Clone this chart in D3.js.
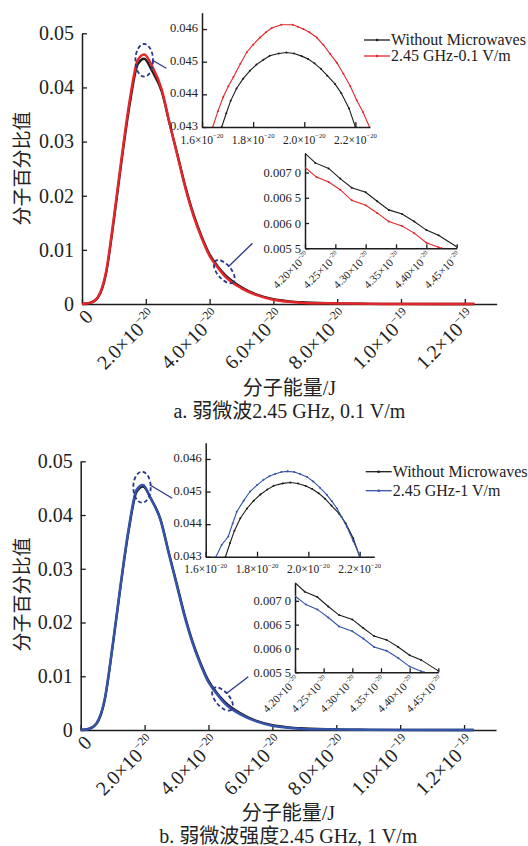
<!DOCTYPE html>
<html>
<head>
<meta charset="utf-8">
<script src="https://cdn.jsdelivr.net/npm/d3@7"></script>
<style>
body { margin: 0; background: #fff; }
text { font-family: "Liberation Serif", "Times New Roman", "Noto Sans CJK SC", serif; fill: #222; }
</style>
</head>
<body>
<div id="chart"></div>
<script>
// molecular energy, in units of 1e-20 J
var energy = [0, 0.25, 0.5, 0.75, 1.0, 1.25, 1.5, 1.75, 1.95, 2.2, 2.5, 2.75, 3.0, 3.25, 3.5, 3.75, 4.0, 4.25, 4.5, 5.0, 5.5, 6.0, 6.5, 7.0, 8.0, 9.0, 10.0, 12.3];
var withoutMw = [0, 0.0002, 0.0012, 0.0055, 0.0155, 0.0268, 0.0370, 0.0443, 0.0453, 0.0430, 0.0392, 0.0332, 0.0274, 0.0215, 0.0165, 0.0125, 0.0092, 0.0070, 0.0053, 0.0031, 0.0017, 0.0009, 0.0005, 0.0003, 0.0001, 0.00004, 0.00001, 0];
var mw01 = [0, 0.0002, 0.0013, 0.0058, 0.0160, 0.0274, 0.0378, 0.0451, 0.0461, 0.0439, 0.0396, 0.0333, 0.0272, 0.0212, 0.0162, 0.0122, 0.0089, 0.0068, 0.0050, 0.0029, 0.0016, 0.0008, 0.0004, 0.0002, 0.0001, 0.00003, 0.00001, 0];
var mw1 = [0, 0.0002, 0.0013, 0.0057, 0.0158, 0.0271, 0.0374, 0.0447, 0.0456, 0.0430, 0.0390, 0.0330, 0.0271, 0.0212, 0.0162, 0.0122, 0.0089, 0.0068, 0.0050, 0.0029, 0.0016, 0.0008, 0.0004, 0.0002, 0.0001, 0.00003, 0.00001, 0];

// close-up around the peak: [energy, fraction]
var peakWithout = [[1.677, 0.0430], [1.695, 0.04342], [1.712, 0.04380], [1.735, 0.04418], [1.761, 0.04448], [1.787, 0.04472], [1.813, 0.04491], [1.84, 0.04506], [1.865, 0.04518], [1.9, 0.04525], [1.93, 0.04528], [1.96, 0.04525], [1.99, 0.04517], [2.015, 0.04508], [2.04, 0.04495], [2.065, 0.04478], [2.09, 0.04457], [2.12, 0.04432], [2.145, 0.04403], [2.175, 0.04357], [2.2, 0.0430]];
var peakMw01 = [[1.642, 0.0430], [1.662, 0.04348], [1.683, 0.04392], [1.703, 0.04425], [1.723, 0.04453], [1.75, 0.04494], [1.775, 0.04529], [1.80, 0.04552], [1.827, 0.04574], [1.85, 0.04590], [1.873, 0.04603], [1.91, 0.04613], [1.955, 0.04613], [1.975, 0.04607], [1.996, 0.04600], [2.02, 0.04590], [2.049, 0.04574], [2.075, 0.04551], [2.101, 0.04524], [2.127, 0.04497], [2.153, 0.04463], [2.18, 0.04425], [2.205, 0.04382], [2.23, 0.04345], [2.255, 0.0430]];
var peakMw1 = [[1.640, 0.0430], [1.662, 0.04336], [1.688, 0.04362], [1.705, 0.04402], [1.721, 0.04438], [1.748, 0.04472], [1.773, 0.04500], [1.80, 0.04520], [1.825, 0.04536], [1.848, 0.04547], [1.870, 0.04554], [1.895, 0.04560], [1.919, 0.04562], [1.945, 0.04560], [1.968, 0.04554], [1.995, 0.04545], [2.019, 0.04531], [2.045, 0.04512], [2.072, 0.04490], [2.092, 0.04470], [2.111, 0.04449], [2.130, 0.04422], [2.150, 0.04392], [2.175, 0.04348], [2.2016, 0.0430]];

// close-up on the tail
var tailWithout = [[4.20, 0.00738], [4.217, 0.00719], [4.239, 0.00708], [4.258, 0.00688], [4.277, 0.00670], [4.30, 0.00661], [4.319, 0.00643], [4.338, 0.00626], [4.36, 0.00618], [4.38, 0.00603], [4.40, 0.00586], [4.42, 0.00576], [4.45, 0.00553]];
var tailMw01 = [[4.20, 0.00710], [4.219, 0.00691], [4.239, 0.00681], [4.258, 0.00666], [4.277, 0.00645], [4.30, 0.00635], [4.319, 0.00620], [4.338, 0.00603], [4.36, 0.00594], [4.38, 0.00580], [4.40, 0.00561], [4.42, 0.00552], [4.425, 0.0055]];
var tailMw1 = [[4.20, 0.00710], [4.219, 0.00692], [4.239, 0.00682], [4.258, 0.00665], [4.277, 0.00646], [4.30, 0.00636], [4.319, 0.00621], [4.338, 0.00603], [4.36, 0.00595], [4.38, 0.00580], [4.40, 0.00562], [4.42, 0.00552], [4.425, 0.0055]];

var mainXTicks = [0, 2, 4, 6, 8, 10, 12];
var mainXLabels = [["0", ""], ["2.0×10", "−20"], ["4.0×10", "−20"], ["6.0×10", "−20"], ["8.0×10", "−20"], ["1.0×10", "−19"], ["1.2×10", "−19"]];
var mainYTicks = [0, 0.01, 0.02, 0.03, 0.04, 0.05];
var mainYLabels = ["0", "0.01", "0.02", "0.03", "0.04", "0.05"];
var peakXTicks = [1.6, 1.8, 2.0, 2.2];
var peakXLabels = ["1.6×10", "1.8×10", "2.0×10", "2.2×10"];
var peakYTicks = [0.043, 0.044, 0.045, 0.046];
var peakYLabels = ["0.043", "0.044", "0.045", "0.046"];
var tailXTicks = [4.20, 4.25, 4.30, 4.35, 4.40, 4.45];
var tailXLabels = ["4.20×10", "4.25×10", "4.30×10", "4.35×10", "4.40×10", "4.45×10"];
var tailYTicks = [0.0055, 0.0060, 0.0065, 0.0070];
var tailYLabels = ["0.005 5", "0.006 0", "0.006 5", "0.007 0"];

var black = "#1c1c1c", red = "#e3262b", blue = "#3553a8", navy = "#2b3785";

var svg = d3.select("#chart").append("svg")
    .attr("width", 528)
    .attr("height", 846);

var panels = [
  { main: {x0: 82, x1: 496.7, y0: 304, y1: 33.3},
    peak: {x0: 202, x1: 370, y0: 127, y1: 12.7},
    tail: {x0: 305, x1: 456.7, y0: 248.3, y1: 153.3},
    color: red, series: mw01, peakSeries: peakMw01, tailSeries: tailMw01,
    name: "2.45 GHz-0.1 V/m", legend: {x: 364, y: [40, 56]},
    ellPeak: {cx: 144.2, cy: 60.3, rx: 8.8, ry: 16.3}, linkPeak: [152, 60, 166.3, 68.3],
    ellTail: {cx: 224.3, cy: 271.7}, linkTail: [228.3, 266.7, 252.5, 243.3],
    titleY: 388, caption: "a. 弱微波2.45 GHz, 0.1 V/m", captionY: 411 },
  { main: {x0: 80.7, x1: 496, y0: 730, y1: 461.3},
    peak: {x0: 205.7, x1: 374.3, y0: 556.7, y1: 442.7},
    tail: {x0: 295, x1: 438.3, y0: 672.3, y1: 582.7},
    color: blue, series: mw1, peakSeries: peakMw1, tailSeries: tailMw1,
    name: "2.45 GHz-1 V/m", legend: {x: 365.7, y: [471.7, 490.7]},
    ellPeak: {cx: 142, cy: 487.2, rx: 8.7, ry: 15.5}, linkPeak: [150, 485, 172.3, 498.3],
    ellTail: {cx: 222.5, cy: 699}, linkTail: [226.7, 693.3, 248.3, 676.7],
    titleY: 813, caption: "b. 弱微波强度2.45 GHz, 1 V/m", captionY: 836 }
];

function styleAxis(sel, size) {
  sel.select(".domain").attr("stroke", black).attr("stroke-width", 1.5);
  sel.selectAll(".tick line").attr("stroke", black).attr("stroke-width", 1.3);
  sel.selectAll("text").style("font-size", size + "px").attr("fill", "#222");
}

function superLabel(sel, base, sup) {
  sel.append("tspan").text(base);
  if (sup) sel.append("tspan").attr("dy", "-0.75em").style("font-size", "0.58em").text(sup);
}

panels.forEach(function(p, pi) {
  var g = svg.append("g");
  var m = p.main;

  // main axes
  var x = d3.scaleLinear().domain([0, 13]).range([m.x0, m.x1]);
  var y = d3.scaleLinear().domain([0, 0.05]).range([m.y0, m.y1]);

  g.append("g").attr("transform", "translate(0," + m.y0 + ")")
    .call(d3.axisBottom(x).tickValues(mainXTicks).tickSizeInner(-5).tickSizeOuter(0).tickFormat(""))
    .call(styleAxis, 20);
  g.append("g").attr("transform", "translate(" + m.x0 + ",0)")
    .call(d3.axisLeft(y).tickValues(mainYTicks).tickSizeInner(-5).tickSizeOuter(0).tickPadding(8)
      .tickFormat(function(d, i) { return mainYLabels[i]; }))
    .call(styleAxis, 20);

  mainXTicks.forEach(function(t, i) {
    var tx = x(t) + 12, ty = m.y0 + 14;
    g.append("text")
      .attr("transform", "translate(" + tx + "," + ty + ") rotate(-45)")
      .attr("text-anchor", "end")
      .style("font-size", "20px")
      .call(superLabel, mainXLabels[i][0], mainXLabels[i][1]);
  });

  var line = d3.line()
    .x(function(d, i) { return x(energy[i]); })
    .y(function(d) { return y(d); })
    .curve(d3.curveMonotoneX);

  g.append("path").datum(withoutMw).attr("d", line)
    .attr("fill", "none").attr("stroke", black).attr("stroke-width", 2.3);
  g.append("path").datum(p.series).attr("d", line)
    .attr("fill", "none").attr("stroke", p.color).attr("stroke-width", 2.5);

  // axis titles
  g.append("text")
    .attr("transform", "translate(29," + (m.y0 - 135.5) + ") rotate(-90)")
    .attr("text-anchor", "middle")
    .style("font-size", "19px")
    .text("分子百分比值");
  g.append("text")
    .attr("x", (m.x0 + m.x1) / 2).attr("y", p.titleY + 7)
    .attr("text-anchor", "middle")
    .style("font-size", "20px")
    .text("分子能量/J");
  g.append("text")
    .attr("x", (m.x0 + m.x1) / 2).attr("y", p.captionY + 7)
    .attr("text-anchor", "middle")
    .style("font-size", "20px")
    .text(p.caption);

  // dashed markers for the zoomed regions
  g.append("ellipse")
    .attr("cx", p.ellPeak.cx).attr("cy", p.ellPeak.cy)
    .attr("rx", p.ellPeak.rx).attr("ry", p.ellPeak.ry)
    .attr("fill", "none").attr("stroke", navy).attr("stroke-width", 1.8).attr("stroke-dasharray", "4,2.5");
  g.append("line")
    .attr("x1", p.linkPeak[0]).attr("y1", p.linkPeak[1]).attr("x2", p.linkPeak[2]).attr("y2", p.linkPeak[3])
    .attr("stroke", navy).attr("stroke-width", 1.3);
  g.append("ellipse")
    .attr("transform", "translate(" + p.ellTail.cx + "," + p.ellTail.cy + ") rotate(50)")
    .attr("rx", 14).attr("ry", 7)
    .attr("fill", "none").attr("stroke", navy).attr("stroke-width", 1.8).attr("stroke-dasharray", "4,2.5");
  g.append("line")
    .attr("x1", p.linkTail[0]).attr("y1", p.linkTail[1]).attr("x2", p.linkTail[2]).attr("y2", p.linkTail[3])
    .attr("stroke", navy).attr("stroke-width", 1.3);

  // peak close-up
  var pk = p.peak;
  var px = d3.scaleLinear().domain([1.6, 2.257]).range([pk.x0, pk.x1]);
  var py = d3.scaleLinear().domain([0.043, 0.0465]).range([pk.y0, pk.y1]);
  var gp = g.append("g");
  gp.append("clipPath").attr("id", "clipPeak" + pi).append("rect")
    .attr("x", pk.x0).attr("y", pk.y1).attr("width", pk.x1 - pk.x0).attr("height", pk.y0 - pk.y1);
  gp.append("g").attr("transform", "translate(0," + pk.y0 + ")")
    .call(d3.axisBottom(px).tickValues(peakXTicks).tickSizeInner(-5).tickSizeOuter(0).tickFormat(""))
    .call(styleAxis, 12);
  gp.append("g").attr("transform", "translate(" + pk.x0 + ",0)")
    .call(d3.axisLeft(py).tickValues(peakYTicks).tickSizeInner(-5).tickSizeOuter(0).tickPadding(4)
      .tickFormat(function(d, i) { return peakYLabels[i]; }))
    .call(styleAxis, 12.5)
    .selectAll(".tick text").attr("y", -1.5);
  peakXTicks.forEach(function(t, i) {
    gp.append("text")
      .attr("x", px(t)).attr("y", pk.y0 + 16.5)
      .attr("text-anchor", "middle")
      .style("font-size", "11.5px")
      .call(superLabel, peakXLabels[i], "−20");
  });
  var pline = d3.line().x(function(d) { return px(d[0]); }).y(function(d) { return py(d[1]); });
  [[peakWithout, black], [p.peakSeries, p.color]].forEach(function(s) {
    var sg = gp.append("g").attr("clip-path", "url(#clipPeak" + pi + ")");
    sg.append("path").datum(s[0]).attr("d", pline)
      .attr("fill", "none").attr("stroke", s[1]).attr("stroke-width", 1.1);
    sg.selectAll("circle").data(s[0]).join("circle")
      .attr("cx", function(d) { return px(d[0]); }).attr("cy", function(d) { return py(d[1]); })
      .attr("r", 1).attr("fill", s[1]);
  });

  // tail close-up
  var tl = p.tail;
  var tx = d3.scaleLinear().domain([4.20, 4.45]).range([tl.x0, tl.x1]);
  var ty = d3.scaleLinear().domain([0.0055, 0.00738]).range([tl.y0, tl.y1]);
  var gt = g.append("g");
  gt.append("clipPath").attr("id", "clipTail" + pi).append("rect")
    .attr("x", tl.x0).attr("y", tl.y1).attr("width", tl.x1 - tl.x0).attr("height", tl.y0 - tl.y1);
  gt.append("g").attr("transform", "translate(0," + tl.y0 + ")")
    .call(d3.axisBottom(tx).tickValues(tailXTicks).tickSizeInner(-4).tickSizeOuter(0).tickFormat(""))
    .call(styleAxis, 11);
  gt.append("g").attr("transform", "translate(" + tl.x0 + ",0)")
    .call(d3.axisLeft(ty).tickValues(tailYTicks).tickSizeInner(-4).tickSizeOuter(0).tickPadding(4)
      .tickFormat(function(d, i) { return tailYLabels[i]; }))
    .call(styleAxis, 12.5);
  tailXTicks.forEach(function(t, i) {
    gt.append("text")
      .attr("transform", "translate(" + (tx(t) + 5) + "," + (tl.y0 + 8) + ") rotate(-45)")
      .attr("text-anchor", "end")
      .style("font-size", "11px")
      .call(superLabel, tailXLabels[i], "−20");
  });
  var tline = d3.line().x(function(d) { return tx(d[0]); }).y(function(d) { return ty(d[1]); });
  [[tailWithout, black], [p.tailSeries, p.color]].forEach(function(s) {
    var sg = gt.append("g").attr("clip-path", "url(#clipTail" + pi + ")");
    sg.append("path").datum(s[0]).attr("d", tline)
      .attr("fill", "none").attr("stroke", s[1]).attr("stroke-width", 1.1);
    sg.selectAll("circle").data(s[0]).join("circle")
      .attr("cx", function(d) { return tx(d[0]); }).attr("cy", function(d) { return ty(d[1]); })
      .attr("r", 1).attr("fill", s[1]);
  });

  // legend
  var lg = p.legend;
  [["Without Microwaves", black], [p.name, p.color]].forEach(function(e, i) {
    var ly = lg.y[i];
    g.append("line").attr("x1", lg.x).attr("x2", lg.x + 26).attr("y1", ly).attr("y2", ly)
      .attr("stroke", e[1]).attr("stroke-width", 1.3);
    g.append("circle").attr("cx", lg.x + 13).attr("cy", ly).attr("r", 1.3).attr("fill", e[1]);
    g.append("text").attr("x", lg.x + 27).attr("y", ly).attr("dy", "0.33em")
      .style("font-size", "16px").text(e[0]);
  });
});
</script>
</body>
</html>
